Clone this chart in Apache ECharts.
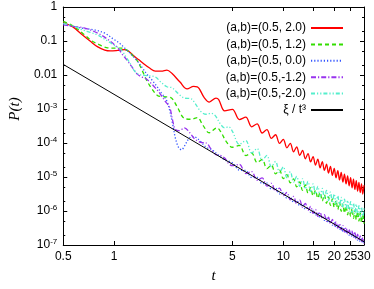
<!DOCTYPE html>
<html><head><meta charset="utf-8">
<script src="https://cdn.jsdelivr.net/npm/echarts@6/dist/echarts.min.js"></script>
<style>html,body{margin:0;padding:0;background:#fff}#c{width:374px;height:289px}</style>
</head><body><div id="c"></div>
<script>
const xTicks = [0.5, 1, 5, 10, 15, 20, 25, 30];
const yTicks = [1e-7, 1e-6, 1e-5, 1e-4, 1e-3, 1e-2, 1e-1, 1];
const yMinorTicks = [2e-7, 5e-7, 2e-6, 5e-6, 2e-5, 5e-5, 2e-4, 5e-4, 2e-3, 5e-3, 2e-2, 5e-2, 0.2, 0.5];
const seriesNames = ['(a,b)=(0.5, 2.0)', '(a,b)=(0.5, 1.2)', '(a,b)=(0.5, 0.0)', '(a,b)=(0.5,-1.2)', '(a,b)=(0.5,-2.0)', 'ξ / t³'];

const tLate = [5,5.5,6,6.5,7,7.5,8,8.5,9,9.5,10,10.5,11,11.5,12,12.5,13,13.5,14,14.5,15,15.5,16,16.5,17,17.5,18,18.5,19,19.5,20,20.5,21,21.5,22,22.5,23,23.5,24,24.5,25,25.5,26,26.5,27,27.5,28,28.5,29,29.5,30];

const redEarly = [[0.5,0.35],[0.57,0.26],[0.65,0.15],[0.72,0.1],[0.8,0.067],[0.88,0.054],[0.95,0.051],[1.05,0.053],[1.15,0.056],[1.22,0.05],[1.31,0.036],[1.4,0.028],[1.5,0.021],[1.62,0.016],[1.75,0.013],[1.9,0.013],[2.05,0.014],[2.2,0.011],[2.45,0.0062],[2.7,0.0039],[2.95,0.0046],[3.1,0.0045],[3.4,0.0022],[3.65,0.0016],[4.0,0.0021],[4.15,0.0019],[4.5,8.8e-4]];
const redLate = [9.8e-4,4.9e-4,5.75e-4,3.0e-4,3.66e-4,1.97e-4,2.47e-4,1.37e-4,1.75e-4,9.8e-5,1.28e-4,7.2e-5,9.8e-5,5.5e-5,7.7e-5,4.3e-5,6.05e-5,3.43e-5,4.9e-5,2.78e-5,4.0e-5,2.25e-5,3.33e-5,1.86e-5,2.82e-5,1.56e-5,2.38e-5,1.31e-5,2.05e-5,1.11e-5,1.79e-5,9.5e-6,1.55e-5,8.2e-6,1.37e-5,7.1e-6,1.21e-5,6.25e-6,1.07e-5,5.5e-6,9.6e-6,4.8e-6,8.65e-6,4.3e-6,7.76e-6,3.85e-6,6.97e-6,3.46e-6,6.3e-6,3.13e-6,5.7e-6];

const greenEarly = [[0.5,0.38],[0.57,0.28],[0.65,0.17],[0.74,0.1],[0.82,0.077],[0.9,0.064],[1.0,0.062],[1.1,0.062],[1.18,0.055],[1.27,0.04],[1.37,0.026],[1.47,0.013],[1.56,0.0068],[1.68,0.0038],[1.8,0.0025],[1.95,0.0023],[2.15,0.0022],[2.35,0.0012],[2.6,5.3e-4],[2.85,5.0e-4],[3.1,5.6e-4],[3.35,3.3e-4],[3.65,2.0e-4],[4.05,2.8e-4],[4.3,2.0e-4],[4.6,1.1e-4]];
const greenLate = [7.5e-5,8.47e-5,4.28e-5,5.06e-5,2.67e-5,3.27e-5,1.77e-5,2.23e-5,1.24e-5,1.58e-5,8.95e-6,1.17e-5,6.7e-6,8.8e-6,5.13e-6,7.14e-6,4.06e-6,5.85e-6,3.35e-6,4.84e-6,2.79e-6,4.06e-6,2.36e-6,3.53e-6,1.97e-6,3.02e-6,1.69e-6,2.61e-6,1.46e-6,2.27e-6,1.28e-6,2.03e-6,1.1e-6,1.8e-6,9.75e-7,1.6e-6,8.65e-7,1.42e-6,7.74e-7,1.28e-6,6.95e-7,1.17e-6,6.12e-7,1.06e-6,5.56e-7,9.6e-7,5.05e-7,8.75e-7,4.61e-7,8.0e-7,4.2e-7];

const blueEarly = [[0.5,0.32],[0.57,0.27],[0.64,0.24],[0.77,0.21],[0.88,0.17],[1.0,0.11],[1.08,0.085],[1.15,0.063],[1.25,0.042],[1.37,0.026],[1.47,0.016],[1.56,0.0106],[1.67,0.0072],[1.78,0.0048],[1.9,0.003],[2.04,0.0018],[2.13,9e-4],[2.22,3.5e-4],[2.3,1.4e-4],[2.4,7.5e-5],[2.5,6.3e-5],[2.6,8e-5],[2.75,1.3e-4],[2.9,1.55e-4],[3.05,1.45e-4],[3.25,1.1e-4],[3.5,7.5e-5],[3.75,6.5e-5],[4.05,4.8e-5],[4.5,3.2e-5]];
const blueLate = [2.64e-5,1.59e-5,1.55e-5,9.7e-6,9.8e-6,6.4e-6,6.6e-6,4.43e-6,4.7e-6,3.18e-6,3.44e-6,2.37e-6,2.6e-6,1.81e-6,2.02e-6,1.42e-6,1.59e-6,1.14e-6,1.28e-6,9.2e-7,1.05e-6,7.55e-7,8.65e-7,6.3e-7,7.26e-7,5.3e-7,6.1e-7,4.49e-7,5.2e-7,3.84e-7,4.49e-7,3.31e-7,3.89e-7,2.89e-7,3.4e-7,2.52e-7,2.97e-7,2.22e-7,2.63e-7,1.96e-7,2.33e-7,1.74e-7,2.07e-7,1.56e-7,1.86e-7,1.4e-7,1.67e-7,1.26e-7,1.51e-7,1.14e-7,1.36e-7];

const purpleEarly = [[0.5,0.3],[0.57,0.27],[0.67,0.24],[0.8,0.17],[0.92,0.11],[1.05,0.063],[1.12,0.04],[1.2,0.026],[1.3,0.015],[1.37,0.0106],[1.45,0.0088],[1.52,0.0082],[1.63,0.0061],[1.75,0.0042],[1.87,0.0028],[2.0,0.0017],[2.13,0.0011],[2.22,4.5e-4],[2.3,2.5e-4],[2.42,2.3e-4],[2.6,2.8e-4],[2.8,2.0e-4],[3.0,1.3e-4],[3.25,1.05e-4],[3.5,1.0e-4],[3.75,6.5e-5],[4.0,4.5e-5],[4.25,4.3e-5],[4.5,3.6e-5],[4.75,2.5e-5]];
const purpleLate = [2.15e-5,2.35e-5,1.26e-5,1.44e-5,8.0e-6,9.4e-6,5.4e-6,6.5e-6,3.82e-6,4.7e-6,2.8e-6,3.5e-6,2.12e-6,2.68e-6,1.64e-6,2.1e-6,1.29e-6,1.68e-6,1.04e-6,1.36e-6,8.5e-7,1.12e-6,7.0e-7,9.3e-7,5.9e-7,7.8e-7,4.98e-7,6.6e-7,4.24e-7,5.7e-7,3.65e-7,4.9e-7,3.16e-7,4.28e-7,2.77e-7,3.73e-7,2.42e-7,3.28e-7,2.14e-7,2.9e-7,1.89e-7,2.57e-7,1.69e-7,2.31e-7,1.51e-7,2.07e-7,1.36e-7,1.86e-7,1.23e-7,1.68e-7,1.11e-7];

const cyanEarly = [[0.5,0.33],[0.57,0.28],[0.64,0.22],[0.72,0.18],[0.8,0.15],[0.86,0.12],[0.92,0.098],[1.0,0.075],[1.1,0.055],[1.18,0.033],[1.25,0.021],[1.32,0.013],[1.4,0.0105],[1.5,0.0097],[1.6,0.0095],[1.75,0.0088],[1.9,0.006],[2.05,0.0045],[2.2,0.0042],[2.4,0.0028],[2.6,0.0021],[2.85,0.002],[3.0,0.0015],[3.25,8.5e-4],[3.5,7.0e-4],[3.75,7.5e-4],[3.95,6.5e-4],[4.25,3.6e-4],[4.5,2.8e-4],[4.75,3.0e-4]];
const cyanLate = [2.21e-4,9.1e-5,1.17e-4,5.1e-5,6.85e-5,3.1e-5,4.3e-5,2.01e-5,2.86e-5,1.36e-5,1.98e-5,9.6e-6,1.43e-5,6.98e-6,1.05e-5,5.35e-6,8.85e-6,4.45e-6,7.4e-6,3.73e-6,6.24e-6,3.17e-6,5.33e-6,2.72e-6,4.61e-6,2.36e-6,4.01e-6,2.01e-6,3.58e-6,1.77e-6,3.16e-6,1.56e-6,2.81e-6,1.4e-6,2.51e-6,1.25e-6,2.24e-6,1.12e-6,2.03e-6,9.9e-7,1.88e-6,8.95e-7,1.71e-6,8.2e-7,1.56e-6,7.5e-7,1.43e-6,6.85e-7,1.31e-6,6.3e-7,1.2e-6];

const powerLaw = [[0.5,0.0205],[30,1.25e-7]];

function join(early, late) { return early.concat(tLate.map((t, i) => [t, late[i]])); }

const FONT = 'Liberation Sans';
const colors = ['#ff0000', '#33dd00', '#3355ff', '#9933ee', '#55eecc', '#000000'];
const dashes = ['solid', [4, 3], [1.2, 2], [5, 2, 1.2, 2], [4, 2, 1.2, 2, 1.2, 2], 'solid'];
const widths = [1.3, 1.3, 1.3, 1.3, 1.3, 1];
const datas = [join(redEarly, redLate), join(greenEarly, greenLate), join(blueEarly, blueLate), join(purpleEarly, purpleLate), join(cyanEarly, cyanLate), powerLaw];

function xAxisCfg(pos, show) {
  return {
    type: 'log', logBase: 10, min: 0.5, max: 30, position: pos,
    axisLine: { show: true, lineStyle: { color: '#000', width: 1 } },
    axisTick: { show: true, inside: true, length: 4, customValues: xTicks, lineStyle: { color: '#000' } },
    axisLabel: { show: show, customValues: xTicks, margin: 6, color: '#000', fontFamily: FONT, fontSize: 12, formatter: v => String(Math.round(v * 10) / 10) },
    splitLine: { show: false }, minorTick: { show: false },
    name: show ? 't' : '', nameLocation: 'middle', nameGap: 24,
    nameTextStyle: { fontFamily: 'Liberation Serif', fontStyle: 'italic', fontSize: 15, color: '#000' }
  };
}
function yAxisCfg(pos, show) {
  return {
    type: 'log', logBase: 10, min: 1e-7, max: 1, position: pos,
    axisLine: { show: true, lineStyle: { color: '#000', width: 1 } },
    axisTick: { show: true, inside: true, length: 4, customValues: yTicks, lineStyle: { color: '#000' } },
    axisLabel: {
      show: show, customValues: yTicks, margin: 6, color: '#000', fontFamily: FONT, fontSize: 12,
      formatter: v => { const e = Math.round(Math.log10(v)); if (e === 0) return '1'; if (e === -1) return '0.1'; if (e === -2) return '0.01'; return '{b|10}{s|' + e + '}'; },
      rich: { b: { fontFamily: FONT, fontSize: 12, color: '#000' }, s: { fontFamily: FONT, fontSize: 8, color: '#000', padding: [0, 0, 7, 0] } }
    },
    splitLine: { show: false }, minorTick: { show: false },
    name: show ? 'P(t)' : '', nameLocation: 'middle', nameGap: 40, nameRotate: 90,
    nameTextStyle: { fontFamily: 'Liberation Serif', fontStyle: 'italic', fontSize: 15, color: '#000', padding: [0, 0, 0, 34] }
  };
}
function yMinorCfg(pos) {
  return {
    type: 'log', logBase: 10, min: 1e-7, max: 1, position: pos,
    axisLine: { show: false },
    axisTick: { show: true, inside: true, length: 2, customValues: yMinorTicks, lineStyle: { color: '#000' } },
    axisLabel: { show: false }, splitLine: { show: false }, minorTick: { show: false }
  };
}

const chart = echarts.init(document.getElementById('c'), null, { renderer: 'canvas' });
chart.setOption({
  animation: false,
  backgroundColor: '#fff',
  grid: { left: 56, right: 10, top: 7, bottom: 41 },
  xAxis: [xAxisCfg('bottom', true), xAxisCfg('top', false)],
  yAxis: [yAxisCfg('left', true), yAxisCfg('right', false), yMinorCfg('left'), yMinorCfg('right')],
  legend: {
    orient: 'vertical', align: 'right', right: 25, top: 17, itemWidth: 32, itemHeight: 10, itemGap: 4.4,
    itemStyle: { opacity: 0 },
    textStyle: { fontFamily: FONT, fontSize: 12, color: '#000' },
    data: seriesNames
  },
  series: seriesNames.map((n, i) => ({
    name: n, type: 'line', data: datas[i], xAxisIndex: 0, yAxisIndex: 0,
    symbol: 'none', smooth: i === 5 ? false : 0.35, clip: true,
    lineStyle: { color: colors[i], width: widths[i], type: dashes[i] },
    itemStyle: { color: colors[i] }
  }))
});
</script></body></html>
